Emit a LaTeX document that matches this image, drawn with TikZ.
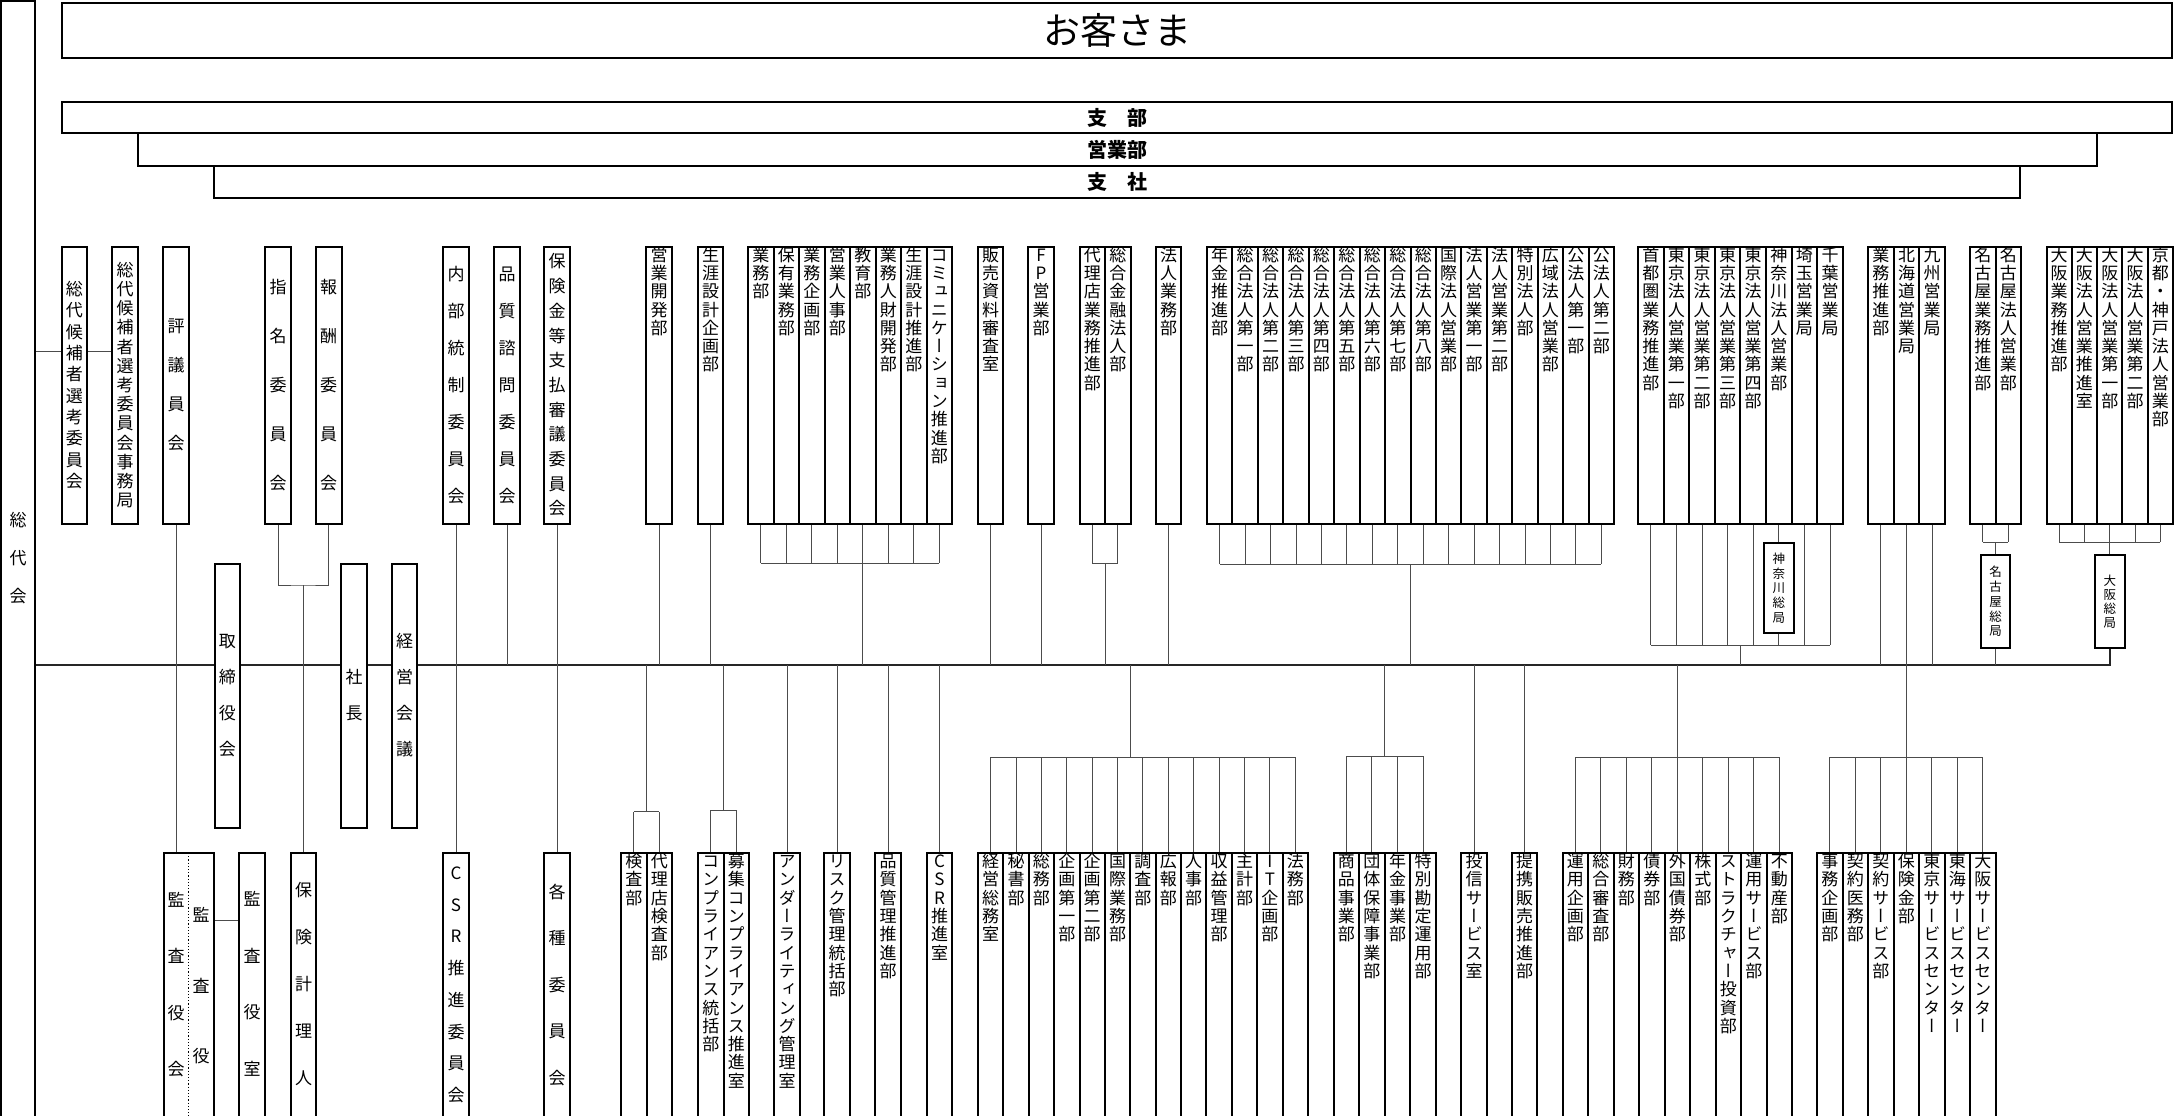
\documentclass[tikz,border=0pt]{standalone}
\usepackage{fontspec}
\newfontfamily\jp{Noto Sans CJK JP}
\newfontfamily\jpv[RawFeature=+vert]{Noto Sans CJK JP}
\usetikzlibrary{calc}
\pgfdeclarelayer{bg}
\pgfsetlayers{bg,main}
\ExplSyntaxOn
\tl_new:N \l_vs_text_tl
\NewDocumentCommand\vstack{mm}{
  \tl_set:Nx \l_vs_text_tl {#2}
  \vbox:n {
    \offinterlineskip
    \tl_map_inline:Nn \l_vs_text_tl {
      \hbox_to_wd:nn {1.1em} { \hss \vbox_to_ht:nn {#1pt} { \vss \hbox:n { \vrule ~ height ~ .88em ~ depth ~ .12em ~ width ~ 0pt \relax ##1 } \vss } \hss }
    }
  }
}
\ExplSyntaxOff
\tikzset{
  box/.style={draw, line width=2pt, fill=white, inner sep=0pt, outer sep=0pt},
  sbox/.style={draw, line width=1.5pt, fill=white, inner sep=0pt, outer sep=0pt, font=\jpv\fontsize{12.5}{12.5}\selectfont},
  dtext/.style={inner sep=0pt, outer sep=0pt, font=\jpv\fontsize{17}{17}\selectfont},
  conn/.style={line width=1pt, draw=black!70},
  mainl/.style={line width=1.5pt, draw=black!85},
  banner/.style={draw, line width=2pt, fill=white, inner sep=0pt, outer sep=0pt, font=\jp\bfseries\fontsize{20}{20}\selectfont},
}
% top-aligned department box: name, cx, cy, h, text
\newcommand\dbox[5]{%
  \node[box, minimum width=25.5, minimum height=#4] (#1) at (#2,#3) {};
  \node[dtext, anchor=north] (#1t) at ([yshift=1pt]#1.north) {\vstack{18.3}{#5}};}
% group of adjacent boxes: prefix, x0, W, cy, h, list
\newcommand\grp[6]{%
  \foreach \t [count=\i from 0] in {#6} {
    \node[box, minimum width=#3, minimum height=#5] (#1-\i) at ({#2+#3/2+\i*#3},#4) {};
    \node[dtext, anchor=north] (#1t-\i) at ([yshift=1pt]#1-\i.north) {\vstack{18.3}{\t}};
  }}
\newcommand\stubsU[3]{%
  \foreach \i in {0,...,#2} {\draw[conn] (#1-\i.south) -- (#1-\i.south |- 0,#3);}
  \draw[conn] (#1-0.south |- 0,#3) -- (#1-#2.south |- 0,#3);}
\newcommand\stubsD[3]{%
  \foreach \i in {0,...,#2} {\draw[conn] (#1-\i.north) -- (#1-\i.north |- 0,#3);}
  \draw[conn] (#1-0.north |- 0,#3) -- (#1-#2.north |- 0,#3);}
\begin{document}
\begin{tikzpicture}[x=1pt,y=-1pt]
\useasboundingbox (0,0) rectangle (2174,1116);

% ---------- left column and banners
\node[box, minimum width=34, minimum height=1150] (L) at (18,576) {};
\node[dtext] (Lt) at (18,558) {\vstack{38}{総代会}};
\node[box, line width=2.5pt, minimum width=2110, minimum height=55, font=\jp\fontsize{37}{37}\selectfont] (cust) at (1117,30.5) {お客さま};
\node[banner, minimum width=2110, minimum height=31.5] (shibu) at (1117,117.5) {支　部};
\node[banner, minimum width=1959, minimum height=33] (eigyo) at (1117.5,149.5) {営業部};
\node[banner, minimum width=1806, minimum height=32] (shisha) at (1117,182) {支　社};

% ---------- upper committees
\node[box,dtext,minimum width=25.5,minimum height=277] (A1) at (74.3,385) {\vstack{21.3}{総代候補者選考委員会}};
\node[box,dtext,minimum width=26,minimum height=277] (A2) at (125,385) {\vstack{19.2}{総代候補者選考委員会事務局}};
\node[box,dtext,minimum width=26,minimum height=277] (A3) at (176,385) {\vstack{39}{評議員会}};
\node[box,dtext,minimum width=26,minimum height=277] (A4) at (278,385) {\vstack{49}{指名委員会}};
\node[box,dtext,minimum width=26,minimum height=277] (A5) at (328.5,385) {\vstack{49}{報酬委員会}};
\node[box,dtext,minimum width=26,minimum height=277] (A6) at (456,385) {\vstack{37}{内部統制委員会}};
\node[box,dtext,minimum width=26,minimum height=277] (A7) at (507,385) {\vstack{37}{品質諮問委員会}};
\node[box,dtext,minimum width=25.5,minimum height=277] (A8) at (557,385) {\vstack{24.7}{保険金等支払審議委員会}};

% ---------- upper departments
\dbox{B1}{659}{385}{277}{営業開発部}
\dbox{B2}{710.5}{385}{277}{生涯設計企画部}
\grp{g1}{748}{25.5}{385}{277}{業務部,保有業務部,業務企画部,営業人事部,教育部,業務人財開発部,生涯設計推進部,コミュニケーション推進部}
\dbox{B3}{990.5}{385}{277}{販売資料審査室}
\dbox{B4}{1041}{385}{277}{FP営業部}
\grp{g2}{1079.5}{25.5}{385}{277}{代理店業務推進部,総合金融法人部}
\dbox{B5}{1168.5}{385}{277}{法人業務部}
\grp{g3}{1207}{25.44}{385}{277}{年金推進部,総合法人第一部,総合法人第二部,総合法人第三部,総合法人第四部,総合法人第五部,総合法人第六部,総合法人第七部,総合法人第八部,国際法人営業部,法人営業第一部,法人営業第二部,特別法人部,広域法人営業部,公法人第一部,公法人第二部}
\grp{g4}{1638}{25.6}{385}{277}{首都圏業務推進部,東京法人営業第一部,東京法人営業第二部,東京法人営業第三部,東京法人営業第四部,神奈川法人営業部,埼玉営業局,千葉営業局}
\grp{g5}{1868}{25.67}{385}{277}{業務推進部,北海道営業局,九州営業局}
\grp{g6}{1970}{25.5}{385}{277}{名古屋業務推進部,名古屋法人営業部}
\grp{g7}{2046.5}{25.3}{385}{277}{大阪業務推進部,大阪法人営業推進室,大阪法人営業第一部,大阪法人営業第二部,京都・神戸法人営業部}

% ---------- regional head offices
\node[sbox, minimum width=30, minimum height=90] (kn) at (g4-5.south |- 0,588) {\vstack{14.75}{神奈川総局}};
\node[sbox, minimum width=29, minimum height=93] (ng) at (g6-0.south east |- 0,601.5) {\vstack{14.75}{名古屋総局}};
\node[sbox, minimum width=30, minimum height=93] (os) at (g7-2.south |- 0,601.5) {\vstack{14}{大阪総局}};

% ---------- middle
\node[box,dtext,minimum width=25.5,minimum height=264] (T1) at (227.3,695.5) {\vstack{36}{取締役会}};
\node[box,dtext,minimum width=25.5,minimum height=264] (T2) at (354,695.5) {\vstack{36}{社長}};
\node[box,dtext,minimum width=25.5,minimum height=264] (T3) at (404.5,695.5) {\vstack{36}{経営会議}};

% ---------- lower left
\node[box, minimum width=50, minimum height=297] (K1) at (188.5,1001.5) {};
\draw[dotted, line width=1.2pt] (K1.north) -- (K1.south);
\node[dtext] (K1a) at (176,984.5) {\vstack{56.5}{監査役会}};
\node[dtext] (K1b) at (201,986) {\vstack{70.5}{監査役}};
\node[box, minimum width=25.5, minimum height=297] (K2) at (252,1001.5) {};
\node[dtext] (K2t) at (252,984) {\vstack{56.7}{監査役室}};
\node[box, minimum width=25, minimum height=297] (K3) at (303.5,1001.5) {};
\node[dtext] (K3t) at (303.5,984) {\vstack{47}{保険計理人}};
\node[box, minimum width=25.5, minimum height=297] (K5) at (456,1001.5) {};
\node[dtext] (K5t) at (456,984) {\vstack{31.7}{CSR推進委員会}};
\node[box, minimum width=25.5, minimum height=297] (K6) at (557,1001.5) {};
\node[dtext] (K6t) at (557,985) {\vstack{46.5}{各種委員会}};

% ---------- lower departments
\grp{l1}{621}{25.5}{1001.5}{297}{検査部,代理店検査部}
\grp{l2}{698}{25.5}{1001.5}{297}{コンプライアンス統括部,募集コンプライアンス推進室}
\dbox{S1}{787}{1001.5}{297}{アンダーライティング管理室}
\dbox{S2}{837}{1001.5}{297}{リスク管理統括部}
\dbox{S3}{888}{1001.5}{297}{品質管理推進部}
\dbox{S4}{939.5}{1001.5}{297}{CSR推進室}
\grp{l3}{978}{25.38}{1001.5}{297}{経営総務室,秘書部,総務部,企画第一部,企画第二部,国際業務部,調査部,広報部,人事部,収益管理部,主計部,IT企画部,法務部}
\grp{l4}{1333.5}{25.6}{1001.5}{297}{商品事業部,団体保障事業部,年金事業部,特別勘定運用部}
\dbox{S5}{1474}{1001.5}{297}{投信サービス室}
\dbox{S6}{1524.5}{1001.5}{297}{提携販売推進部}
\grp{l5}{1562.7}{25.48}{1001.5}{297}{運用企画部,総合審査部,財務部,債券部,外国債券部,株式部,ストラクチャー投資部,運用サービス部,不動産部}
\grp{l6}{1817}{25.5}{1001.5}{297}{事務企画部,契約医務部,契約サービス部,保険金部,東京サービスセンター,東海サービスセンター,大阪サービスセンター}

% ---------- connectors
\begin{pgfonlayer}{bg}
\coordinate (mainL) at (35,665);
\draw[mainl] (L.east |- mainL) -- (os.south |- mainL) -- (os.south);
\draw[conn] (L.east |- 0,351) -- (A1.west |- 0,351);
\draw[conn] (A1.east |- 0,351) -- (A2.west |- 0,351);
\draw[conn] (A3.south) -- (A3.south |- K1.north);
\coordinate (j45) at (303.25,585);
\draw[conn] (A4.south) |- (j45) -| (A5.south);
\draw[conn] (j45) -- (j45 |- K3.north);
\draw[conn] (A6.south) -- (K5.north);
\draw[conn] (A7.south) -- (A7.south |- mainL);
\draw[conn] (A8.south) -- (K6.north);
\foreach \n in {B1,B2,B3,B4,B5} {\draw[conn] (\n.south) -- (\n.south |- mainL);}
\stubsU{g1}{7}{563}
\draw[conn] (g1-4.south |- 0,563) -- (g1-4.south |- mainL);
\stubsU{g2}{1}{563}
\draw[conn] (g2-0.south east |- 0,563) -- (g2-0.south east |- mainL);
\stubsU{g3}{15}{564}
\draw[conn] (g3-7.south east |- 0,564) -- (g3-7.south east |- mainL);
\stubsU{g4}{7}{645}
\draw[conn] (g4-3.south east |- 0,645) -- (g4-3.south east |- mainL);
\draw[conn] (g5-0.south) -- (g5-0.south |- mainL);
\draw[conn] (g5-2.south) -- (g5-2.south |- mainL);
\draw[conn] (g5-1.south) -- (g5-1.south |- 0,757);
\stubsU{g6}{1}{542}
\draw[conn] (g6-0.south east |- 0,542) -- (ng.north);
\draw[conn] (ng.south) -- (ng.south |- mainL);
\stubsU{g7}{4}{542}
\draw[conn] (g7-2.south |- 0,542) -- (os.north);
% lower
\draw[conn] (K1.east |- 0,920) -- (K2.west |- 0,920);
\draw[conn] (l1-0.north east |- mainL) -- (l1-0.north east |- 0,811.5);
\stubsD{l1}{1}{811.5}
\draw[conn] (l2-0.north east |- mainL) -- (l2-0.north east |- 0,810);
\stubsD{l2}{1}{810}
\foreach \n in {S1,S2,S3,S4,S5,S6} {\draw[conn] (\n.north |- mainL) -- (\n.north);}
\draw[conn] (l3-5.north east |- mainL) -- (l3-5.north east |- 0,757);
\stubsD{l3}{12}{757}
\draw[conn] (l4-1.north east |- mainL) -- (l4-1.north east |- 0,756);
\stubsD{l4}{3}{756}
\draw[conn] (l5-4.north |- mainL) -- (l5-4.north |- 0,757);
\stubsD{l5}{8}{757}
\stubsD{l6}{6}{757}
\end{pgfonlayer}
\end{tikzpicture}
\end{document}
